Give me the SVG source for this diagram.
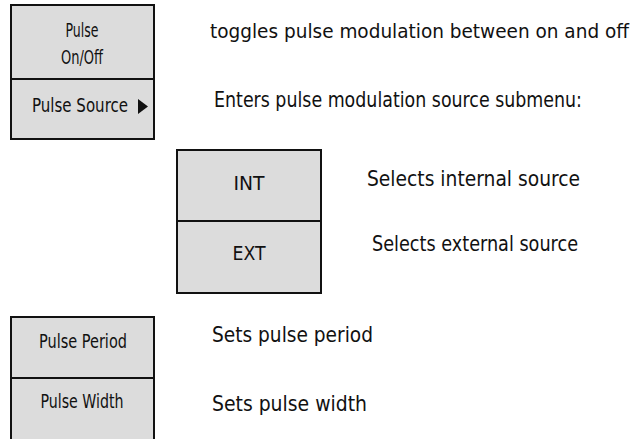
<svg xmlns="http://www.w3.org/2000/svg" width="637" height="439" viewBox="0 0 637 439">
<style>
.box{fill:#dcdcdc;stroke:#111;stroke-width:2}
.div{stroke:#111;stroke-width:2;fill:none}
.k{font-family:"Liberation Sans Narrow","DejaVu Sans Condensed","Liberation Sans",sans-serif;font-size:19px;fill:#111;text-anchor:middle}
.d{font-family:"Liberation Sans Narrow","DejaVu Sans Condensed","Liberation Sans",sans-serif;font-size:21px;fill:#111}
</style>
<rect width="637" height="439" fill="#fff"/>
<g id="pulse-onoff">
<rect class="box" x="11" y="5" width="143" height="134"/>
<line class="div" x1="11" y1="79" x2="154" y2="79"/>
<text class="k" x="82" y="37" textLength="33" lengthAdjust="spacingAndGlyphs">Pulse</text>
<text class="k" x="82" y="64" textLength="42" lengthAdjust="spacingAndGlyphs">On/Off</text>
<text class="k" x="80" y="112" textLength="96" lengthAdjust="spacingAndGlyphs">Pulse Source</text>
<polygon points="138,99 148,106.5 138,114" fill="#111"/>
</g>
<g id="source-menu">
<rect class="box" x="177" y="150" width="144" height="143"/>
<line class="div" x1="177" y1="221" x2="321" y2="221"/>
<text class="k" x="249" y="190" textLength="31" lengthAdjust="spacingAndGlyphs">INT</text>
<text class="k" x="249" y="260" textLength="33" lengthAdjust="spacingAndGlyphs">EXT</text>
</g>
<g id="pulse-period">
<rect class="box" x="11" y="317" width="143" height="130"/>
<line class="div" x1="11" y1="378" x2="154" y2="378"/>
<text class="k" x="83" y="348" textLength="88" lengthAdjust="spacingAndGlyphs">Pulse Period</text>
<text class="k" x="82" y="408" textLength="83" lengthAdjust="spacingAndGlyphs">Pulse Width</text>
</g>
<g id="descriptions">
<text class="d" x="210" y="38" style="font-size:19.5px" textLength="419" lengthAdjust="spacingAndGlyphs">toggles pulse modulation between on and off</text>
<text class="d" x="214" y="107" textLength="368" lengthAdjust="spacingAndGlyphs">Enters pulse modulation source submenu:</text>
<text class="d" x="367" y="186" textLength="213" lengthAdjust="spacingAndGlyphs">Selects internal source</text>
<text class="d" x="372" y="251" textLength="206" lengthAdjust="spacingAndGlyphs">Selects external source</text>
<text class="d" x="212" y="342" textLength="161" lengthAdjust="spacingAndGlyphs">Sets pulse period</text>
<text class="d" x="212" y="411" textLength="155" lengthAdjust="spacingAndGlyphs">Sets pulse width</text>
</g>
</svg>
